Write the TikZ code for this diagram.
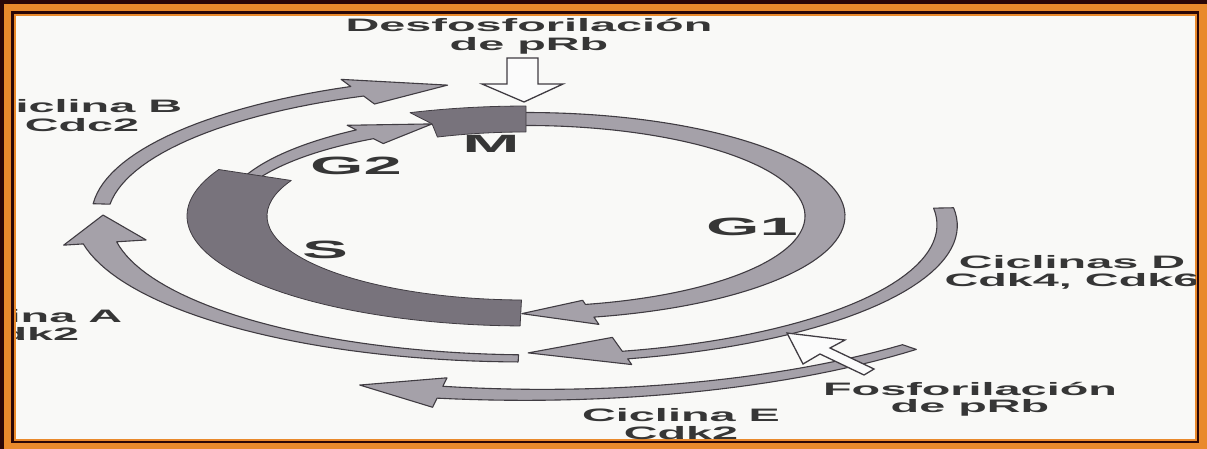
\documentclass[tikz,border=0pt]{standalone}
\usepackage{fontspec}
\setmainfont{Liberation Sans}
\definecolor{frameD}{HTML}{2B0707}
\definecolor{frameO}{HTML}{E98A2C}
\definecolor{paperC}{HTML}{F9F9F7}
\definecolor{bandL}{HTML}{A5A1A9}
\definecolor{bandD}{HTML}{78737C}
\definecolor{edgeC}{HTML}{403C42}
\definecolor{inkC}{HTML}{363636}
\definecolor{hollowC}{HTML}{FBFBFB}
\tikzset{
  lightband/.style={fill=bandL, draw=edgeC, line width=1.1pt, line join=round},
  darkband/.style={fill=bandD, draw=edgeC, line width=0.8pt, line join=round},
  hollowarrow/.style={fill=hollowC, draw=edgeC, line width=1.3pt, line join=miter},
  lbl/.style={text=inkC, font=\bfseries\fontsize{18}{#1}\selectfont, xscale=2.6, inner sep=0pt, anchor=base},
  lbl/.default=18,
  phase/.style={text=inkC, font=\bfseries\fontsize{25}{25}\selectfont, xscale=2.75, inner sep=0pt, anchor=base},
}
\newcommand{\twolines}[2]{\begin{tabular}[t]{@{}c@{}}#1\\#2\end{tabular}}
\begin{document}
\begin{tikzpicture}[x=1pt,y=1pt]
\useasboundingbox (0,0) rectangle (1207,-449);
% frame
\fill[frameD] (0,0) rectangle (1207,-449);
\fill[frameO] (4,-4) rectangle (1207,-449);
\fill[frameD] (11,-11) rectangle (1199,-443);
\fill[frameO] (14,-14) rectangle (1197,-441);
\fill[paperC] (16,-16) rectangle (1195,-439);
\begin{scope}
\clip (16,-16) rectangle (1195,-439);
% labels
\node[lbl] (desf) at (529,-32) {\twolines{Desfosforilación}{de pRb}};
\node[lbl] (cycB) at (82,-113) {\twolines{Ciclina B}{Cdc2}};
\node[lbl] (cycA) at (22,-322) {\twolines{Ciclina A}{Cdk2}};
\node[lbl=17] (cycD) at (1072,-268) {\twolines{Ciclinas D}{Cdk4, Cdk6}};
\node[lbl=15.5] (fosf) at (970,-395) {\twolines{Fosforilación}{de pRb}};
\node[lbl] (cycE) at (681,-421) {\twolines{Ciclina E}{Cdk2}};
% cycle shapes (circle world, squashed vertically)
\begin{scope}[shift={(526,-216)}, yscale=0.3244]
  % Ciclina B
  \path[lightband] plot[domain=175:113.7, samples=30] (\x:{436-0.02475*(\x-114)})
     -- (113.7:460) -- (101:411) -- (113.7:377)
     -- plot[domain=113.7:175, samples=30] (\x:{404+0.2228*(\x-114)}) -- cycle;
  % Ciclina A
  \path[lightband] (179.6:423) -- (191:387)
     -- plot[domain=191:269, samples=40] (\x:{417+0.1401*(\x-191)})
     -- plot[domain=269:191, samples=40] (\x:{451-0.01274*(\x-191)})
     -- (191:471) -- cycle;
  % Ciclina D
  \path[lightband] plot[domain=3.4:-77, samples=40] (\x:{440-22*((\x+76)/80)*((\x+76)/80)+12-2*(\x+76)/79.4})
     -- (-77:470) -- (-89.7:422) -- (-77:384)
     -- plot[domain=-77:3.4, samples=40] (\x:{440-22*((\x+76)/80)*((\x+76)/80)-12+2*(\x+76)/79.4}) -- cycle;
  % Ciclina E
  \path[lightband] plot[domain=-46.5:-99, samples=30] (\x:{568.5-0.02857*(\x+99)})
     -- (-99:597) -- (-107.7:547) -- (-99:505)
     -- plot[domain=-99:-46.5, samples=30] (\x:{531.5+0.2952*(\x+99)}) -- cycle;
  % G1
  \path[lightband] (91:319) arc[start angle=91, end angle=-77.7, radius=319]
     -- (-77.7:342) -- (-90.8:301) -- (-77.7:266) -- (-77.7:279)
     arc[start angle=-77.7, end angle=91, radius=279] -- cycle;
  % G2
  \path[lightband] plot[domain=158:122.6, samples=25] (\x:{307+0.2469*(155-\x)})
     -- (122.6:332) -- (108.3:299) -- (122.6:265)
     -- plot[domain=122.6:158, samples=25] (\x:{291-0.2469*(155-\x)}) -- cycle;
  % S
  \path[darkband] (155:339) arc[start angle=155, end angle=269, radius=339]
     -- (269:259) arc[start angle=269, end angle=155, radius=259] -- cycle;
  % M
  \path[darkband] (110:339) arc[start angle=110, end angle=90, radius=339]
     -- (90:259) arc[start angle=90, end angle=110, radius=259] -- (108.3:299) -- cycle;
\end{scope}
% hollow arrows
\draw[hollowarrow] (507,-58) -- (538,-58) -- (538,-84) -- (563,-84) -- (524,-102) -- (482,-84) -- (507,-84) -- cycle;
\draw[hollowarrow] (787,-333) -- (845,-340) -- (830,-348) -- (874,-369) -- (864,-375) -- (820,-354) -- (803,-364) -- cycle;
% phase letters
\node[phase] (M) at (491,-153) {M};
\node[phase] (G2) at (356,-175) {G2};
\node[phase] (G1) at (752,-235) {G1};
\node[phase] (S) at (325,-258) {S};
\end{scope}
\end{tikzpicture}
\end{document}
